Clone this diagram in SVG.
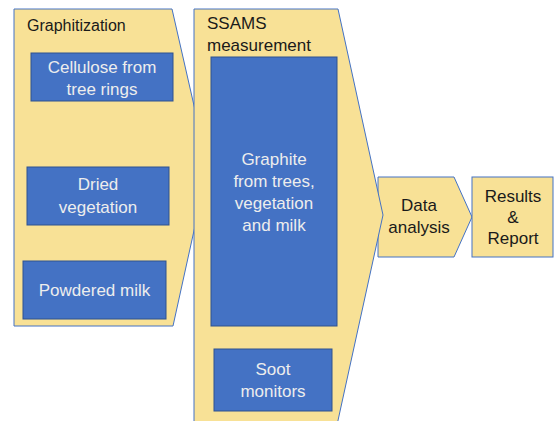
<svg xmlns="http://www.w3.org/2000/svg" width="554" height="421" viewBox="0 0 554 421">
<style>
.stage{fill:#F8E196;stroke:#4472C4;stroke-width:1}
.box{fill:#4472C4;stroke:#2F528F;stroke-width:1}
.t{font-family:"Liberation Sans",Arial,sans-serif;font-size:17px;text-anchor:middle}
.dk{fill:#1a1a1a}
.lt{fill:#EDEDED}
</style>
<rect width="554" height="421" fill="#ffffff"/>
<g id="graphitization">
<polygon class="stage" points="14,9 172,9 208,167 173,326 14,326"/>
<text class="dk" x="27" y="31" font-family="Liberation Sans,Arial,sans-serif" font-size="16">Graphitization</text>
</g>
<g id="cellulose">
<rect class="box" x="31" y="53" width="142" height="48"/>
<text class="t lt" x="102" y="73">Cellulose from</text>
<text class="t lt" x="102" y="95">tree rings</text>
</g>
<g id="dried">
<rect class="box" x="27" y="167" width="142" height="58"/>
<text class="t lt" x="98" y="190">Dried</text>
<text class="t lt" x="98" y="213">vegetation</text>
</g>
<g id="milk">
<rect class="box" x="23" y="261" width="143" height="58"/>
<text class="t lt" x="94.5" y="296">Powdered milk</text>
</g>
<g id="data">
<polygon class="stage" points="378,177 454,177 472,217 454,257 378,257"/>
<text class="t dk" x="419" y="211">Data</text>
<text class="t dk" x="419" y="233">analysis</text>
</g>
<g id="ssams">
<polygon class="stage" points="194,9 338,9 383,215 337,425 194,425"/>
<text class="dk" x="207" y="29" font-family="Liberation Sans,Arial,sans-serif" font-size="17">SSAMS</text>
<text class="dk" x="207" y="51" font-family="Liberation Sans,Arial,sans-serif" font-size="17">measurement</text>
</g>
<g id="graphite">
<rect class="box" x="211" y="57" width="126" height="269"/>
<text class="t lt" x="274" y="165">Graphite</text>
<text class="t lt" x="274" y="187">from trees,</text>
<text class="t lt" x="274" y="209">vegetation</text>
<text class="t lt" x="274" y="231">and milk</text>
</g>
<g id="soot">
<rect class="box" x="214" y="349" width="118" height="62"/>
<text class="t lt" x="273" y="375">Soot</text>
<text class="t lt" x="273" y="397">monitors</text>
</g>
<g id="results">
<rect class="stage" x="472" y="177" width="81" height="80"/>
<text class="t dk" x="513" y="202">Results</text>
<text class="t dk" x="513" y="223">&amp;</text>
<text class="t dk" x="513" y="244">Report</text>
</g>
<g id="connectors"></g>
</svg>
